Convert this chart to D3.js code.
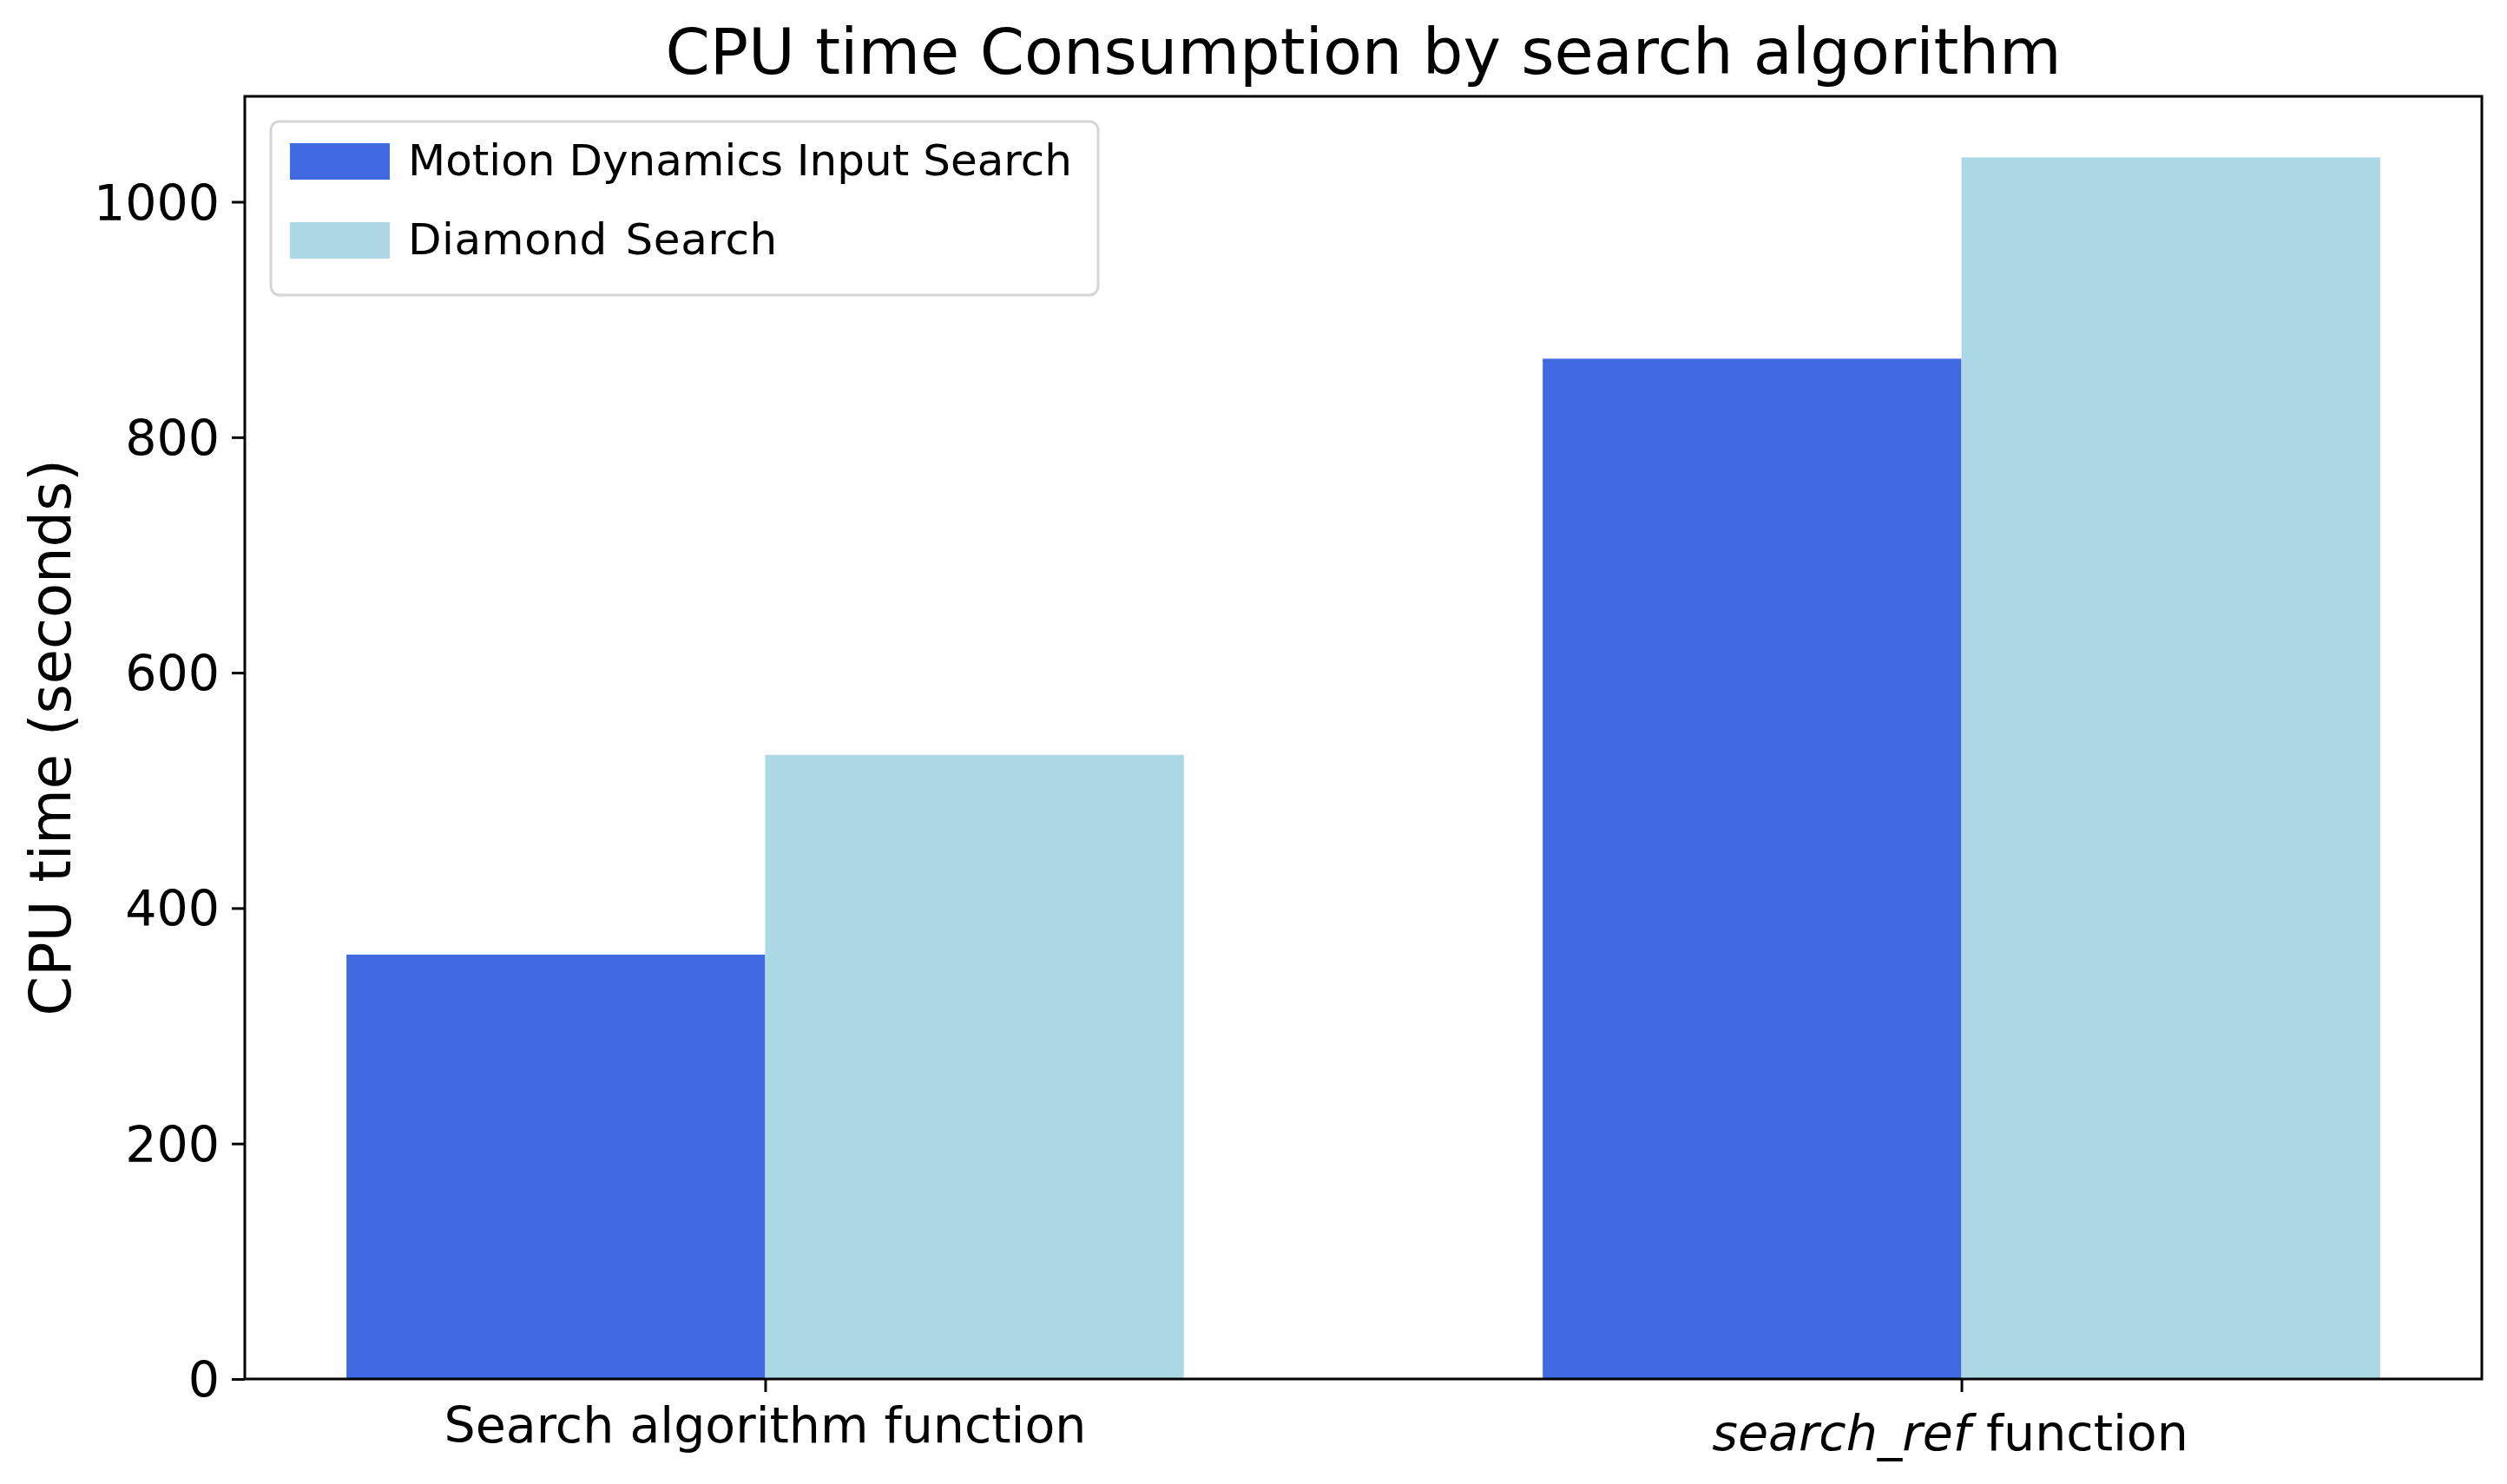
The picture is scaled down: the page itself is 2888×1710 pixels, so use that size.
<!DOCTYPE html>
<html>
<head>
<meta charset="utf-8">
<script src="https://cdn.jsdelivr.net/npm/d3@7"></script>
<style>
  html, body { margin: 0; padding: 0; background: #fff; }
  svg { display: block; }
  text { font-family: "DejaVu Sans", sans-serif; fill: #000; }
</style>
</head>
<body>
<svg id="chart" width="2888" height="1710"></svg>
<script>
const categories = ["Search algorithm function", "search_ref function"];
const seriesNames = ["Motion Dynamics Input Search", "Diamond Search"];
const motionValues = [360.5, 866.7];
const diamondValues = [530.2, 1037.7];
const yTickValues = [0, 200, 400, 600, 800, 1000];
const titleText = "CPU time Consumption by search algorithm";
const yLabelText = "CPU time (seconds)";
const colors = ["#4169E1", "#ADD8E6"];

const W = 2888, H = 1710;
const plot = { left: 282, right: 2859, top: 111, bottom: 1589 };
const barW = 0.35;

const svg = d3.select("#chart");

const allVals = motionValues.concat(diamondValues);
const y = d3.scaleLinear()
  .domain([0, d3.max(allVals) * 1.05])
  .range([plot.bottom, plot.top]);

const xMin = -barW, xMax = (categories.length - 1) + barW;
const pad = (xMax - xMin) * 0.05;
const x = d3.scaleLinear()
  .domain([xMin - pad, xMax + pad])
  .range([plot.left, plot.right]);

// bars
const series = [motionValues, diamondValues];
series.forEach((vals, si) => {
  svg.append("g").selectAll("rect")
    .data(vals)
    .join("rect")
    .attr("x", (d, i) => x(i + (si === 0 ? -barW : 0)))
    .attr("width", x(barW) - x(0))
    .attr("y", d => y(d))
    .attr("height", d => y(0) - y(d))
    .attr("fill", colors[si]);
});

// y axis
const yAxis = d3.axisLeft(y).tickValues(yTickValues).tickSize(15).tickPadding(14).tickFormat(d3.format("d"));
const gy = svg.append("g").attr("transform", `translate(${plot.left},0)`).call(yAxis);
gy.select(".domain").remove();
gy.selectAll(".tick line").attr("stroke", "#000").attr("stroke-width", 3);
gy.selectAll(".tick text").attr("font-size", 57).attr("font-family", "DejaVu Sans").attr("fill", "#000").attr("dy", "0.36em");

// x axis
const xAxis = d3.axisBottom(x).tickValues(d3.range(categories.length)).tickSize(15).tickFormat(() => "");
const gx = svg.append("g").attr("transform", `translate(0,${plot.bottom})`).call(xAxis);
gx.select(".domain").remove();
gx.selectAll(".tick line").attr("stroke", "#000").attr("stroke-width", 3);

// x tick labels (second one with italic part)
const xl = svg.append("g");
xl.append("text")
  .attr("x", x(0)).attr("y", 1662)
  .attr("text-anchor", "middle").attr("font-size", 57)
  .text(categories[0]);
const t2 = xl.append("text")
  .attr("x", x(1) - 13).attr("y", 1671)
  .attr("text-anchor", "middle").attr("font-size", 57);
const parts = categories[1].split(" ");
t2.append("tspan").attr("font-style", "italic").text(parts[0]);
t2.append("tspan").text(" " + parts.slice(1).join(" "));

// frame
svg.append("rect")
  .attr("x", plot.left).attr("y", plot.top)
  .attr("width", plot.right - plot.left).attr("height", plot.bottom - plot.top)
  .attr("fill", "none").attr("stroke", "#000").attr("stroke-width", 3);

// title
svg.append("text")
  .attr("x", (plot.left + plot.right) / 2).attr("y", 85)
  .attr("text-anchor", "middle").attr("font-size", 73.5)
  .text(titleText);

// y label
svg.append("text")
  .attr("transform", `translate(81,${(plot.top + plot.bottom) / 2}) rotate(-90)`)
  .attr("text-anchor", "middle").attr("font-size", 65.5)
  .text(yLabelText);

// legend
const lg = svg.append("g");
lg.append("rect")
  .attr("x", 312).attr("y", 140).attr("width", 953).attr("height", 200)
  .attr("rx", 10).attr("ry", 10)
  .attr("fill", "#fff").attr("fill-opacity", 0.8)
  .attr("stroke", "#d6d6d6").attr("stroke-width", 3);
seriesNames.forEach((name, i) => {
  const rowY = 165 + i * 91;
  lg.append("rect")
    .attr("x", 334).attr("y", rowY).attr("width", 115).attr("height", 42)
    .attr("fill", colors[i]);
  lg.append("text")
    .attr("x", 470).attr("y", rowY + 36.7)
    .attr("font-size", 50)
    .attr("letter-spacing", i === 1 ? 0.6 : 0)
    .attr("word-spacing", i === 1 ? 4 : 0)
    .text(name);
});
</script>
</body>
</html>
